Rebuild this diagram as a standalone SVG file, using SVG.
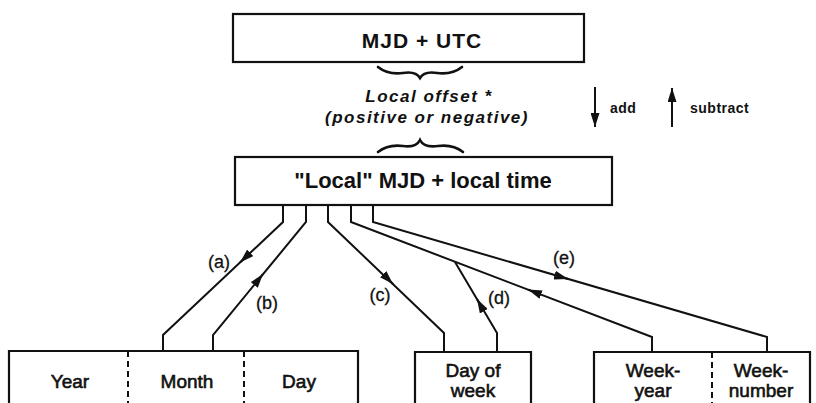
<svg xmlns="http://www.w3.org/2000/svg" width="816" height="403" viewBox="0 0 816 403">
<defs>
<style>
.box{fill:none;stroke:#111;stroke-width:2.2}
.dash{fill:none;stroke:#111;stroke-width:2;stroke-dasharray:6 4}
.ln{fill:none;stroke:#111;stroke-width:2}
.br{fill:none;stroke:#111;stroke-width:2.6;stroke-linecap:round}
.t{font-family:"Liberation Sans",Arial,sans-serif;fill:#111;text-anchor:middle}
.big{font-size:21px;font-weight:bold;letter-spacing:1px}
.mid{font-size:22px;font-weight:bold}
.it{font-size:17px;font-weight:bold;font-style:italic;letter-spacing:1.5px}
.lab{font-size:18px;stroke:#111;stroke-width:0.3}
.bot{font-size:19px;stroke:#111;stroke-width:0.6}
.sm{font-size:14px;font-weight:bold;letter-spacing:0.5px;text-anchor:start}
</style>
<marker id="ah" viewBox="0 0 14 9" refX="14" refY="4.5" markerWidth="14" markerHeight="9" markerUnits="userSpaceOnUse" orient="auto">
<path d="M0,0 L14,4.5 L0,9 Z" fill="#111"/>
</marker>
</defs>
<rect width="816" height="403" fill="#fff"/>

<g id="utc">
<rect class="box" x="233" y="14" width="351" height="48"/>
<text class="t big" x="422" y="48">MJD + UTC</text>
</g>

<g id="offset">
<path class="br" d="M378,67 Q388,75 403,73 Q416,71 420,78 Q424,71 437,73 Q452,75 462,67"/>
<text class="t it" x="429" y="102">Local offset *</text>
<text class="t it" x="427" y="123">(positive or negative)</text>
<path class="br" d="M378,152 Q388,144 403,146 Q416,148 420,140 Q424,148 438,146 Q453,144 463,152"/>
</g>

<g id="legend">
<path class="ln" d="M595,87 L595,127" marker-end="url(#ah)"/>
<text class="t sm" x="610" y="113">add</text>
<path class="ln" d="M672,127 L672,88" marker-end="url(#ah)"/>
<text class="t sm" x="690" y="113">subtract</text>
</g>

<g id="local">
<rect class="box" x="235" y="157" width="377" height="48"/>
<text class="t mid" x="423" y="188">"Local" MJD + local time</text>
</g>

<g id="ymd">
<path class="box" d="M9,403 L9,351 L358,351 L358,403"/>
<line class="dash" x1="128" y1="351" x2="128" y2="403"/>
<line class="dash" x1="244" y1="351" x2="244" y2="403"/>
<text class="t bot" x="70" y="388">Year</text>
<text class="t bot" x="187" y="388">Month</text>
<text class="t bot" x="299" y="388">Day</text>
</g>

<g id="dow">
<path class="box" d="M415,403 L415,352 L531,352 L531,403"/>
<text class="t bot" x="473" y="377">Day of</text>
<text class="t bot" x="473" y="397">week</text>
</g>

<g id="week">
<path class="box" d="M594,403 L594,352 L810,352 L810,403"/>
<line class="dash" x1="712" y1="352" x2="712" y2="403"/>
<text class="t bot" x="653" y="377">Week-</text>
<text class="t bot" x="653" y="397">year</text>
<text class="t bot" x="761" y="377">Week-</text>
<text class="t bot" x="761" y="397">number</text>
</g>

<g id="connectors">
<polyline class="ln" points="283,205 283,222 163,335 163,351"/>
<polyline class="ln" points="306,205 306,222 213,335 213,351"/>
<polyline class="ln" points="328,205 328,222 444,333 444,352"/>
<polyline class="ln" points="497,352 497,333 455,262"/>
<polyline class="ln" points="351,205 351,222 652,337 652,352"/>
<polyline class="ln" points="373,205 373,222 767,337 767,352"/>
<path class="ln" d="M250,253 L240,262.5" marker-end="url(#ah)"/>
<path class="ln" d="M255,284 L263,274" marker-end="url(#ah)"/>
<path class="ln" d="M386,277 L393,284" marker-end="url(#ah)"/>
<path class="ln" d="M482,308 L477,299" marker-end="url(#ah)"/>
<path class="ln" d="M540,294.2 L528,289.6" marker-end="url(#ah)"/>
<path class="ln" d="M556,275.5 L568,279" marker-end="url(#ah)"/>
<text class="t lab" x="219" y="268">(a)</text>
<text class="t lab" x="267" y="309">(b)</text>
<text class="t lab" x="380" y="301">(c)</text>
<text class="t lab" x="499" y="304">(d)</text>
<text class="t lab" x="564" y="264">(e)</text>
</g>
</svg>
